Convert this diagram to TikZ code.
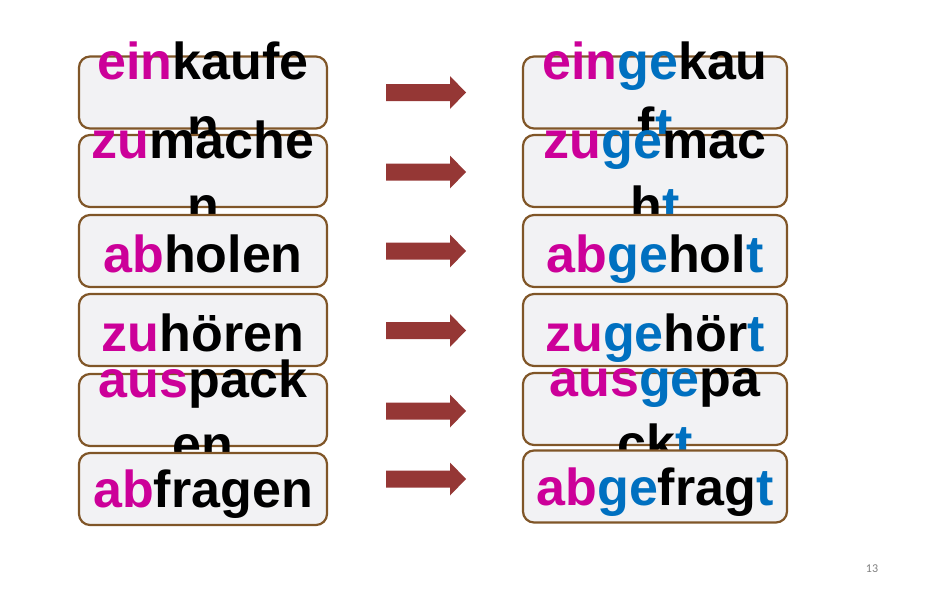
\documentclass[tikz,border=0pt]{standalone}
\usepackage{fontspec}
\usepackage{tikz}
\newfontfamily\wordfamily{Liberation Sans}
\newfontfamily\pagefamily{Carlito}

\definecolor{pfxpink}{RGB}{204,0,153}
\definecolor{geblue}{RGB}{0,112,192}
\definecolor{boxbrown}{RGB}{128,86,40}
\definecolor{boxfill}{RGB}{242,242,244}
\definecolor{arrowred}{RGB}{149,55,53}

\newcommand{\pf}[1]{\textcolor{pfxpink}{#1}}
\newcommand{\gb}[1]{\textcolor{geblue}{#1}}

\tikzset{
  wordbox/.style={draw=boxbrown, line width=2.2pt, fill=boxfill, rounded corners=11pt,
    minimum height=72pt, inner sep=0pt},
  leftbox/.style={wordbox, minimum width=248pt},
  rightbox/.style={wordbox, minimum width=264pt},
  word/.style={anchor=base, inner sep=0pt, font=\wordfamily\bfseries\fontsize{52}{65}\selectfont},
  pics/fwdarrow/.style={code={
    \fill[arrowred] (-40,-8.5) -- (24,-8.5) -- (24,-16.5) -- (40,0) -- (24,16.5) -- (24,8.5) -- (-40,8.5) -- cycle;}}
}

\begin{document}
\begin{tikzpicture}[x=1pt,y=1pt,yscale=-1]
\useasboundingbox (0,0) rectangle (935,597);

% row 1
\node [leftbox] (lbox1) at (203,92.5) {};
\node [word] (l1a) at (203,79.5) {\pf{ein}kaufe};
\node [word] (l1b) at (203,144.5) {n};
\node [rightbox] (rbox1) at (655,92.5) {};
\node [word] (r1a) at (655,79.5) {\pf{ein}\gb{ge}kau};
\node [word] (r1b) at (655,144.5) {f\gb{t}};
% row 2
\node [leftbox] (lbox2) at (203,171) {};
\node [word] (l2a) at (203,158) {\pf{zu}mache};
\node [word] (l2b) at (203,223) {n};
\node [rightbox] (rbox2) at (655,171) {};
\node [word] (r2a) at (655,158) {\pf{zu}\gb{ge}mac};
\node [word] (r2b) at (655,223) {h\gb{t}};
% row 3
\node [leftbox] (lbox3) at (203,251) {};
\node [word] (l3a) at (203,272) {\pf{ab}holen};
\node [rightbox] (rbox3) at (655,251) {};
\node [word] (r3a) at (655,272) {\pf{ab}\gb{ge}hol\gb{t}};
% row 4
\node [leftbox] (lbox4) at (203,330) {};
\node [word] (l4a) at (203,351) {\pf{zu}hören};
\node [rightbox] (rbox4) at (655,330) {};
\node [word] (r4a) at (655,351) {\pf{zu}\gb{ge}hör\gb{t}};
% row 5
\node [leftbox] (lbox5) at (203,410) {};
\node [word] (l5a) at (203,397) {\pf{aus}pack};
\node [word] (l5b) at (203,462) {en};
\node [rightbox] (rbox5) at (655,409) {};
\node [word] (r5a) at (655,396) {\pf{aus}\gb{ge}pa};
\node [word] (r5b) at (655,461) {ck\gb{t}};
% row 6
\node [leftbox] (lbox6) at (203,489) {};
\node [word] (l6a) at (203,507) {\pf{ab}fragen};
\node [rightbox] (rbox6) at (655,486.5) {};
\node [word] (r6a) at (655,505) {\pf{ab}\gb{ge}frag\gb{t}};

% arrows
\foreach \ay in {92.5,172,251,330.5,411,479}
  \pic at (426,\ay) {fwdarrow};

% page number
\node [font=\pagefamily\fontsize{12}{14}\selectfont, text=gray, inner sep=0pt] (pagenum) at (872,569) {13};
\end{tikzpicture}
\end{document}
